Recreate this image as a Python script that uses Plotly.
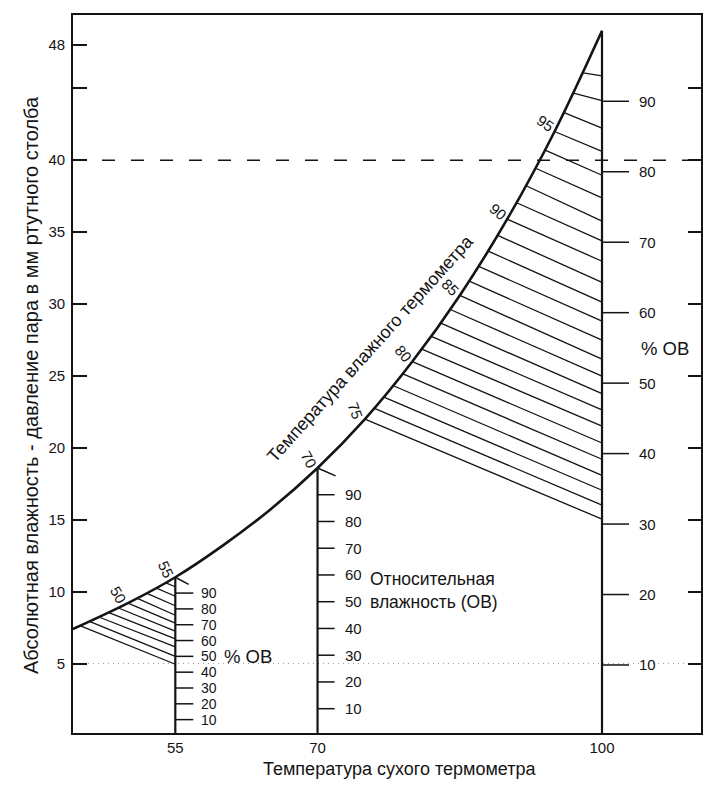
import numpy as np
import plotly.graph_objects as go

# ---------------- data ----------------
# saturation curve (dry bulb °F -> vapour pressure, mm Hg)
sat_temp = [44.2, 50, 55, 60, 65, 70, 75, 80, 85, 90, 95, 100]
sat_vp = [7.4, 9.2, 11.0, 13.2, 15.7, 18.6, 22.0, 26.0, 30.6, 35.9, 42.0, 49.0]

# dry-bulb verticals carrying RH scales
scale_temps = [55, 70, 100]
rh_ticks = [10, 20, 30, 40, 50, 60, 70, 80, 90]

# wet-bulb hatch lines ending on the 100° line (RH % at the end)
wb_big = [75, 76, 77, 78, 79, 80, 81, 82, 83, 84, 85, 86, 87, 88, 89, 90,
          91, 92, 93, 94, 95, 96, 97, 98]
rh_big_end = [30.7, 32.7, 34.8, 36.9, 39.2, 41.5, 43.9, 46.2, 48.5, 51.0,
              53.4, 56.1, 58.8, 61.5, 64.3, 67.3, 70.2, 73.0, 76.3, 79.5,
              82.9, 86.2, 90.1, 93.6]

# wet-bulb hatch lines ending on the 55° line
wb_small = [45, 46, 47, 48, 49, 50, 51, 52, 53, 54]
rh_small_end = [45, 50, 56, 61, 66, 71, 76, 82, 88, 94]

# wet-bulb labels on the curve
wb_labels = [50, 55, 70, 75, 80, 85, 90, 95]
wb_label_angle = [60, 65, 60, 70, 50, 45, 40, 35]

# axis ticks
y_ticks = [5, 10, 15, 20, 25, 30, 35, 40, 45, 48]
y_ticktext = ["5", "10", "15", "20", "25", "30", "35", "40", "", "48"]
y2_ticks = [5, 10, 15, 20, 25, 30, 35, 40, 45]
x_ticks = [55, 70, 100]

dashed_level = 40
dotted_level = 5

# ---------------- geometry / style ----------------
XR = [44.21, 110.44]
YR = [0.17, 50.1]
FONT = "Liberation Sans, Arial, sans-serif"
INK = "#141414"


def vp_on_curve(t):
    return float(np.exp(np.interp(t, sat_temp, np.log(sat_vp))))


sat100 = vp_on_curve(100)

fig = go.Figure()

# reference lines
fig.add_trace(go.Scatter(x=XR, y=[dashed_level] * 2, mode="lines",
                         line=dict(color=INK, width=1.4, dash="13px,16px"),
                         hoverinfo="skip"))
fig.add_trace(go.Scatter(x=XR, y=[dotted_level] * 2, mode="lines",
                         line=dict(color="#9a9a9a", width=1, dash="1px,4px"),
                         hoverinfo="skip"))

# hatch lines
hx, hy = [], []
for wb, rh in zip(wb_big, rh_big_end):
    hx += [wb, 100, None]
    hy += [vp_on_curve(wb), rh / 100 * sat100, None]
s55 = vp_on_curve(55)
for wb, rh in zip(wb_small, rh_small_end):
    hx += [wb, 55, None]
    hy += [vp_on_curve(wb), rh / 100 * s55, None]
fig.add_trace(go.Scatter(x=hx, y=hy, mode="lines",
                         line=dict(color=INK, width=1.3), hoverinfo="skip"))

# saturation curve
fig.add_trace(go.Scatter(x=sat_temp, y=sat_vp, mode="lines",
                         line=dict(color=INK, width=2.6, shape="spline", smoothing=1.0),
                         hoverinfo="skip"))

# verticals + RH ticks
tick_len = {55: 1.9, 70: 1.8, 100: 2.85}
label_shift = {55: 25, 70: 26, 100: 36}
label_size = {55: 14, 70: 15, 100: 15}
vx, vy, tx, ty = [], [], [], []
for t in scale_temps:
    s = vp_on_curve(t)
    vx += [t, t, None]
    vy += [YR[0], s, None]
    for r in rh_ticks:
        tx += [t, t + tick_len[t], None]
        ty += [r / 100 * s, r / 100 * s, None]
# short stubs at the top of the 55 and 70 verticals
stub_dx = [1.4, 1.9]
stub_drop = [0.5, 0.55]
for t, dx, dd in zip([55, 70], stub_dx, stub_drop):
    s = vp_on_curve(t)
    tx += [t, t + dx, None]
    ty += [s, s - dd, None]
fig.add_trace(go.Scatter(x=vx, y=vy, mode="lines",
                         line=dict(color=INK, width=2.2), hoverinfo="skip"))
fig.add_trace(go.Scatter(x=tx, y=ty, mode="lines",
                         line=dict(color=INK, width=1.5), hoverinfo="skip"))

# invisible trace for the right-hand tick axis
fig.add_trace(go.Scatter(x=[XR[0]], y=[YR[0]], yaxis="y2", mode="markers",
                         marker=dict(opacity=0), hoverinfo="skip"))

ann = []
for t in scale_temps:
    s = vp_on_curve(t)
    for r in rh_ticks:
        ann.append(dict(x=t, y=r / 100 * s, xref="x", yref="y", text=str(r),
                        showarrow=False, xanchor="left", yanchor="middle",
                        xshift=label_shift[t], borderpad=0,
                        font=dict(size=label_size[t], color=INK, family=FONT)))

for wb, ang in zip(wb_labels, wb_label_angle):
    ann.append(dict(x=wb, y=vp_on_curve(wb), xref="x", yref="y", text=str(wb),
                    showarrow=False, textangle=ang, xshift=-9, yshift=8,
                    font=dict(size=15, color=INK, family=FONT)))

ann += [
    dict(x=75.5, y=26.9, xref="x", yref="y", text="Температура влажного термометра",
         showarrow=False, textangle=-48, xanchor="center", yanchor="middle",
         font=dict(size=18, color=INK, family=FONT)),
    dict(x=75.3, y=10.1, xref="x", yref="y", text="Относительная<br>влажность (ОВ)",
         showarrow=False, xanchor="left", yanchor="middle", align="left",
         font=dict(size=17.5, color=INK, family=FONT)),
    dict(x=100, y=26.9, xref="x", yref="y", text="% ОВ", showarrow=False,
         xanchor="left", yanchor="middle", xshift=37,
         font=dict(size=18.5, color=INK, family=FONT)),
    dict(x=55, y=0.5 * s55, xref="x", yref="y", text="% ОВ", showarrow=False,
         xanchor="left", yanchor="middle", xshift=47,
         font=dict(size=18.5, color=INK, family=FONT)),
    dict(x=0.521, y=-0.05, xref="paper", yref="paper", text="Температура сухого термометра",
         showarrow=False, xanchor="center", yanchor="middle",
         font=dict(size=18, color=INK, family=FONT)),
    dict(x=-0.068, y=0.485, xref="paper", yref="paper",
         text="Абсолютная влажность - давление пара в мм ртутного столба",
         showarrow=False, textangle=-90, xanchor="center", yanchor="middle",
         font=dict(size=20, color=INK, family=FONT)),
]

fig.update_layout(
    width=722, height=785,
    margin=dict(l=65, r=29, t=5, b=60),
    paper_bgcolor="white", plot_bgcolor="white",
    showlegend=False,
    annotations=ann,
    xaxis=dict(range=XR, tickvals=x_ticks, ticks="", showgrid=False, zeroline=False,
               showline=True, mirror=True, linecolor=INK, linewidth=1.8,
               tickfont=dict(size=15, color=INK, family=FONT), ticklabelstandoff=0),
    yaxis=dict(range=YR, tickvals=y_ticks, ticktext=y_ticktext, ticks="inside",
               ticklen=14, tickwidth=1.6, tickcolor=INK, showgrid=False, zeroline=False,
               showline=True, mirror=True, linecolor=INK, linewidth=1.8,
               tickfont=dict(size=15, color=INK, family=FONT), ticklabelstandoff=3),
    yaxis2=dict(range=YR, overlaying="y", side="right", tickvals=y2_ticks,
                ticks="inside", ticklen=13, tickwidth=1.6, tickcolor=INK,
                showticklabels=False, showgrid=False, zeroline=False, showline=False),
)

fig.write_html("out.html")
